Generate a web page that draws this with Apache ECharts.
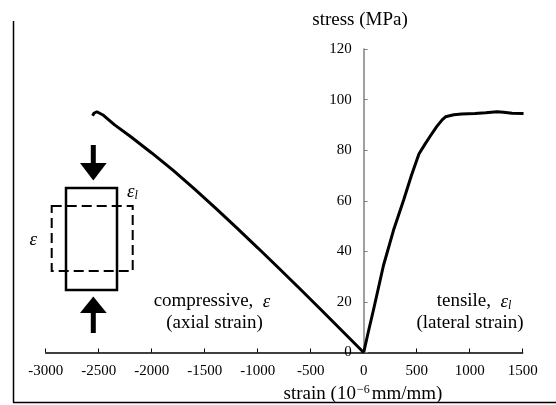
<!DOCTYPE html>
<html>
<head>
<meta charset="utf-8">
<script src="https://cdn.jsdelivr.net/npm/echarts@6/dist/echarts.min.js"></script>
<style>html,body{margin:0;padding:0;background:#fff;}#c{width:556px;height:405px;}</style>
</head>
<body>
<div id="c"></div>
<script>
// Compressive (axial) branch: strain (1e-6 mm/mm), stress (MPa)
var compStrain = [0, -200, -400, -600, -800, -1000, -1200, -1400, -1600, -1800, -2000, -2200, -2350, -2455, -2517, -2545, -2558];
var compStress = [0, 8.4, 16.8, 25.1, 33.3, 41.4, 49.4, 57.2, 64.8, 72.1, 78.9, 85.4, 90.0, 93.8, 95.2, 94.6, 93.6];
// Tensile (lateral) branch
var tensStrain = [0, 40, 92, 187, 281, 376, 450, 521, 580, 627, 690, 740, 772, 850, 923, 1050, 1150, 1257, 1320, 1400, 1508];
var tensStress = [0, 7.5, 16.8, 34.5, 48.3, 60.2, 70, 78.5, 82.5, 85.5, 89.4, 92, 93.2, 94, 94.3, 94.5, 94.8, 95.2, 95, 94.6, 94.5];
// Axis ticks
var xMin = -3000, xMax = 1500, xStep = 500;
var yMin = 0, yMax = 120, yStep = 20;
var xTitle = 'strain (10';
var yTitle = 'stress (MPa)';

function pairs(xs, ys) { return xs.map(function (x, i) { return [x, ys[i]]; }); }

var serif = '"Liberation Serif", "Times New Roman", serif';
var gridLeft = 45.7, gridRight = 33.3;
var plotW = 556 - gridLeft - gridRight;
var zeroOffset = -plotW * (0 - xMin) / (xMax - xMin);

var chart = echarts.init(document.getElementById('c'), null, { renderer: 'canvas' });
chart.setOption({
  backgroundColor: '#fff',
  animation: false,
  grid: { left: gridLeft, right: gridRight, top: 49, bottom: 52.5, containLabel: false },
  xAxis: {
    type: 'value', min: xMin, max: xMax, interval: xStep,
    axisLine: { onZero: false, lineStyle: { color: '#000', width: 1.5 } },
    axisTick: { inside: true, length: 4, lineStyle: { color: '#000', width: 1 } },
    axisLabel: { color: '#000', fontFamily: serif, fontSize: 15, margin: 11, formatter: function (v) { return String(v); } },
    splitLine: { show: false }
  },
  yAxis: {
    type: 'value', min: yMin, max: yMax, interval: yStep, offset: zeroOffset,
    axisLine: { show: true, onZero: false, lineStyle: { color: '#808080', width: 1.5 } },
    axisTick: { show: true, inside: true, length: 4, lineStyle: { color: '#808080', width: 1 } },
    axisLabel: { color: '#000', fontFamily: serif, fontSize: 15, margin: 12, formatter: function (v) { return String(v); } },
    splitLine: { show: false }
  },
  series: [
    { type: 'line', data: pairs(compStrain, compStress), showSymbol: false, lineStyle: { color: '#000', width: 3 }, z: 5 },
    { type: 'line', data: pairs(tensStrain, tensStress), showSymbol: false, lineStyle: { color: '#000', width: 3 }, z: 5 }
  ],
  graphic: [
    { type: 'line', shape: { x1: 13.5, y1: 21, x2: 13.5, y2: 402.5 }, style: { stroke: '#000', lineWidth: 1.5 } },
    { type: 'line', shape: { x1: 13, y1: 402.5, x2: 556, y2: 402.5 }, style: { stroke: '#000', lineWidth: 1.5 } },
    { type: 'rect', shape: { x: 51.7, y: 206, width: 81, height: 65 }, style: { stroke: '#000', fill: null, lineWidth: 2, lineDash: [10, 5] } },
    { type: 'rect', shape: { x: 66, y: 188, width: 51, height: 102 }, style: { stroke: '#000', fill: null, lineWidth: 2.5 } },
    { type: 'rect', shape: { x: 90.8, y: 145, width: 5, height: 20 }, style: { fill: '#000' } },
    { type: 'polygon', shape: { points: [[80, 163], [106.7, 163], [93.3, 180.5]] }, style: { fill: '#000' } },
    { type: 'polygon', shape: { points: [[93.3, 296.5], [80, 313], [106.7, 313]] }, style: { fill: '#000' } },
    { type: 'rect', shape: { x: 90.8, y: 311, width: 5, height: 22 }, style: { fill: '#000' } },
    { type: 'text', x: 33.3, y: 240, style: { text: 'ε', font: 'italic 19px ' + serif, fill: '#000', align: 'center', verticalAlign: 'middle' } },
    { type: 'text', x: 127, y: 192, style: { text: '{e|ε}{s|l}', fill: '#000', align: 'left', verticalAlign: 'middle',
        rich: { e: { font: 'italic 19px ' + serif }, s: { font: 'italic 12px ' + serif, padding: [8, 0, 0, 0] } } } },
    { type: 'text', x: 212, y: 301.5, style: { text: 'compressive,  {e|ε}', fill: '#000', font: '19px ' + serif, align: 'center', verticalAlign: 'middle',
        rich: { e: { font: 'italic 19px ' + serif } } } },
    { type: 'text', x: 214.5, y: 323.5, style: { text: '(axial strain)', fill: '#000', font: '19px ' + serif, align: 'center', verticalAlign: 'middle' } },
    { type: 'text', x: 474, y: 301.5, style: { text: 'tensile,  {e|ε}{s|l}', fill: '#000', font: '19px ' + serif, align: 'center', verticalAlign: 'middle',
        rich: { e: { font: 'italic 19px ' + serif }, s: { font: 'italic 12px ' + serif, padding: [8, 0, 0, 0] } } } },
    { type: 'text', x: 470, y: 323.5, style: { text: '(lateral strain)', fill: '#000', font: '19px ' + serif, align: 'center', verticalAlign: 'middle' } },
    { type: 'text', x: 360, y: 20, style: { text: yTitle, fill: '#000', font: '19px ' + serif, align: 'center', verticalAlign: 'middle' } },
    { type: 'text', x: 363, y: 394, style: { text: xTitle + '{p|−6}mm/mm)', fill: '#000', font: '19px ' + serif, align: 'center', verticalAlign: 'middle',
        rich: { p: { font: '12px ' + serif, padding: [0, 2, 8, 1] } } } }
  ]
});
</script>
</body>
</html>
